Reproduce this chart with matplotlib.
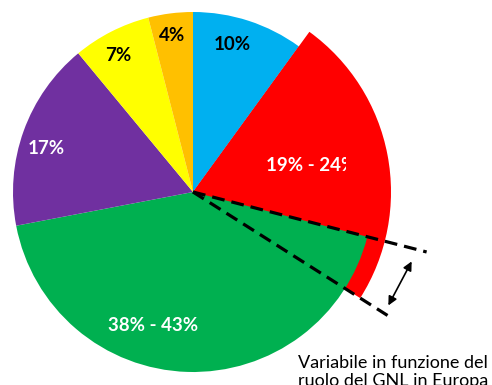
import matplotlib.pyplot as plt
import numpy as np
from matplotlib.patches import Rectangle

# Shares (%) - green and red vary with the role of LNG in Europe
shares_low_red = [10, 19, 43, 17, 7, 4]
red_max = 24
colors = ["#00B0F0", "#FF0000", "#00B050", "#7030A0", "#FFFF00", "#FFC000"]
labels = ["10%", "19% - 24%", "38% - 43%", "17%", "7%", "4%"]
label_colors = ["black", "white", "white", "white", "black", "black"]
note = "Variabile in funzione del\nruolo del GNL in Europa"

plt.rcParams['font.family'] = ['Lato', 'DejaVu Sans']

fig = plt.figure(figsize=(4.92, 3.85), dpi=100)
ax = fig.add_axes([0, 0, 1, 1])

# red slice at its maximum size, drawn a bit larger behind the others
big, _ = ax.pie([shares_low_red[0], red_max, 100 - shares_low_red[0] - red_max],
                colors=["none", colors[1], "none"], radius=1.1,
                startangle=90, counterclock=False, normalize=True)
big[0].set_visible(False)
big[2].set_visible(False)

wedges, _ = ax.pie(shares_low_red, colors=colors, radius=1.0,
                   startangle=90, counterclock=False, normalize=True)

# dashed lines at the 19% and 24% boundaries of the red share
for pct, length in [(shares_low_red[0] + shares_low_red[1], 1.34),
                    (shares_low_red[0] + red_max, 1.28)]:
    ang = np.deg2rad(90 - pct * 3.6)
    ax.plot([0, length * np.cos(ang)], [0, length * np.sin(ang)],
            color="black", lw=2.3, ls=(0, (4, 2.2)), zorder=5)

ax.annotate("", xy=(1.222, -0.372), xytext=(1.078, -0.644),
            arrowprops=dict(arrowstyle="<|-|>", color="black", lw=1.2,
                            mutation_scale=13), zorder=6)

label_pos = [(0.217, 0.817), (0.406, 0.15), (-0.222, -0.739),
             (-0.817, 0.244), (-0.417, 0.761), (-0.117, 0.872)]
for i, (lab, pos) in enumerate(zip(labels, label_pos)):
    ha = "left" if i == 1 else "center"
    t = ax.text(pos[0], pos[1], lab, color=label_colors[i], fontsize=13.5,
                fontweight="bold", ha=ha, va="center", zorder=7)
    if i == 1:
        # the label is cut off in the original
        t.set_clip_on(True)
        t.set_clip_path(Rectangle((0.3, -0.2), 0.55, 0.6,
                                  transform=ax.transData))

ax.text(1.111, -1.0, note, fontsize=13, ha="center", va="center",
        linespacing=1.2)

ax.set_xlim(-193 / 180, (492 - 193) / 180)
ax.set_ylim(-(385 - 192) / 180, 192 / 180)
ax.set_aspect("equal")
ax.axis("off")

fig.savefig("out.png", dpi=100)
